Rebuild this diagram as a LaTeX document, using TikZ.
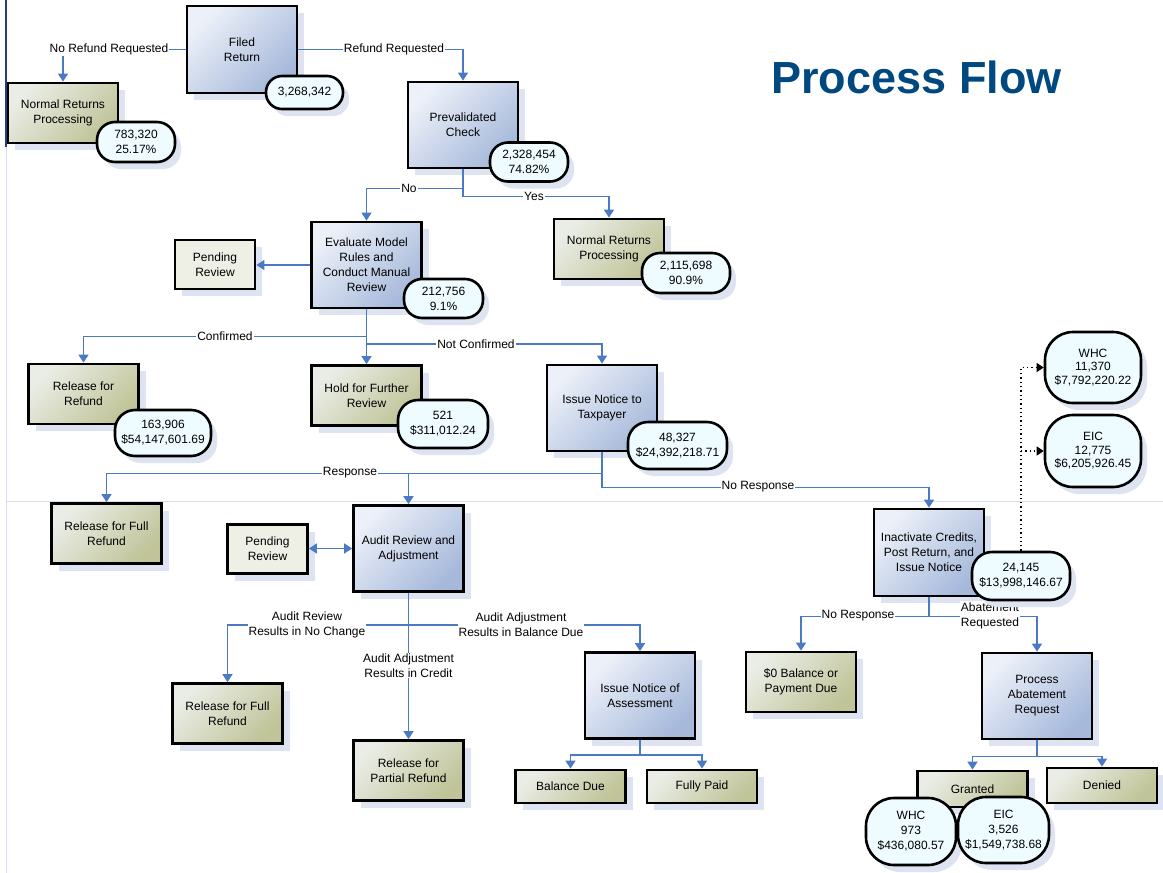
\documentclass[tikz,border=0pt]{standalone}
\usepackage{fontspec}
\setmainfont{Liberation Sans}
\usetikzlibrary{shadows,arrows.meta}
\definecolor{connc}{RGB}{74,122,196}
\definecolor{shad}{RGB}{222,227,242}
\definecolor{blueA}{RGB}{236,240,248}
\definecolor{blueB}{RGB}{166,185,219}
\definecolor{oliA}{RGB}{234,237,230}
\definecolor{oliB}{RGB}{192,196,152}
\definecolor{pendc}{RGB}{238,240,230}
\definecolor{badgec}{RGB}{238,252,255}
\definecolor{titlec}{RGB}{0,72,128}
\definecolor{framedark}{RGB}{40,60,120}
\definecolor{framelight}{RGB}{218,222,240}
\tikzset{
  txt/.style={font=\fontsize{12}{15}\selectfont},
  box/.style={txt, draw=black, line width=2.8pt, align=center, inner sep=2pt,
    drop shadow={shadow xshift=7pt, shadow yshift=-7pt, fill=shad, opacity=1}},
  bluebox/.style={box, top color=blueA, bottom color=blueB, shading angle=45},
  olivebox/.style={box, top color=oliA, bottom color=oliB, shading angle=45},
  pendbox/.style={box, fill=pendc},
  badge/.style={txt, draw=black, line width=2.6pt, fill=badgec, align=center, inner sep=0pt,
    rounded corners=18pt,
    drop shadow={shadow xshift=6pt, shadow yshift=-7pt, fill=shad, opacity=1}},
  conn/.style={draw=connc, line width=1.5pt, -{Triangle[length=8pt,width=10pt]}},
  dotconn/.style={draw=black, line width=1.3pt, dash pattern=on 1.3pt off 3pt, -{Triangle[length=7pt,width=9pt]}},
  lbl/.style={txt, fill=white, inner sep=1pt, align=center},
}
\begin{document}
\begin{tikzpicture}[x=1pt,y=-1pt]
\useasboundingbox (0,0) rectangle (1163,873);
\fill[white] (0,0) rectangle (1163,873);
% frame lines
\draw[framelight, line width=1pt] (6,147) -- (6,873);
\draw[framedark, line width=1.2pt] (6,0) -- (6,147);
\draw[framelight, line width=1pt] (6,501) -- (1163,501);
% title
\node[font=\bfseries\fontsize{45}{54}\selectfont, text=titlec, anchor=base, inner sep=0pt] (title) at (916.5,93) {Process Flow};

% boxes
\node[bluebox, minimum width=110, minimum height=87] (filed) at (242,49.5) {Filed\\Return};
\node[olivebox, minimum width=110, minimum height=60] (nrp1) at (63,113) {Normal Returns\\Processing};
\node[bluebox, minimum width=110, minimum height=86] (preval) at (463,125) {Prevalidated\\Check};
\node[olivebox, minimum width=110, minimum height=60] (nrp2) at (609,249) {Normal Returns\\Processing};
\node[bluebox, minimum width=110, minimum height=86] (eval) at (366.5,265) {Evaluate Model\\Rules and\\Conduct Manual\\Review};
\node[pendbox, minimum width=80, minimum height=49] (pend1) at (215,264.5) {Pending\\Review};
\node[olivebox, minimum width=110, minimum height=60] (relref) at (83.5,394) {Release for\\Refund};
\node[olivebox, minimum width=110, minimum height=60] (hold) at (366.5,395.5) {Hold for Further\\Review};
\node[bluebox, minimum width=110, minimum height=86] (issue) at (602,408) {Issue Notice to\\Taxpayer};
\node[olivebox, minimum width=110, minimum height=60] (rfull1) at (106.5,533.5) {Release for Full\\Refund};
\node[pendbox, minimum width=80, minimum height=49] (pend2) at (267.5,549) {Pending\\Review};
\node[bluebox, minimum width=110, minimum height=86] (audit) at (408.5,548.5) {Audit Review and\\Adjustment};
\node[olivebox, minimum width=110, minimum height=60] (rfull2) at (227.5,713.5) {Release for Full\\Refund};
\node[olivebox, minimum width=110, minimum height=60] (rpart) at (408.5,770.5) {Release for\\Partial Refund};
\node[bluebox, minimum width=110, minimum height=86] (assess) at (640,695.5) {Issue Notice of\\Assessment};
\node[olivebox, minimum width=110, minimum height=33] (baldue) at (570.5,786.5) {Balance Due};
\node[olivebox, minimum width=110, minimum height=33] (fpaid) at (702,786.5) {Fully Paid};
\node[olivebox, minimum width=110, minimum height=60] (zero) at (801,682) {\$0 Balance or\\Payment Due};
\node[bluebox, minimum width=110, minimum height=87] (inact) at (929,552.5) {Inactivate Credits,\\Post Return, and\\Issue Notice};
\node[bluebox, minimum width=110, minimum height=86] (abate) at (1037,696) {Process\\Abatement\\Request};
\node[olivebox, minimum width=110, minimum height=36] (granted) at (972.5,789) {Granted};
\node[olivebox, minimum width=110, minimum height=35] (denied) at (1102,785.5) {Denied};

% connectors
\draw[conn] (filed.west) -| (nrp1.north);
\node[lbl] (l1) at (109,49.5) {No Refund Requested};
\draw[conn] (filed.east) -| (preval.north);
\node[lbl] (l2) at (394,49.5) {Refund Requested};
\draw[conn] (preval.south) -- ++(0,19) -| (eval.north);
\node[lbl] (l3) at (409,188) {No};
\draw[conn] (preval.south) -- ++(0,27) -| (nrp2.north);
\node[lbl] (l4) at (534,196) {Yes};
\draw[conn] (eval.west) -- (eval.west -| pend1.east);
\draw[conn] (eval.south) -- ++(0,27) -| (relref.north);
\node[lbl] (l5) at (225,336) {Confirmed};
\draw[conn] (eval.south) -- (hold.north);
\coordinate (j1) at (366.5,344);
\draw[conn] (j1) -| (issue.north);
\node[lbl] (l6) at (476,344) {Not Confirmed};
\draw[conn] (issue.south) -- ++(0,21) -| (rfull1.north);
\node[lbl] (l7) at (350,473) {Response};
\coordinate (j2) at (408.5,473.4);
\draw[conn] (j2) -- (audit.north);
\draw[conn] (issue.south) -- ++(0,35) -| (inact.north);
\node[lbl] (l8) at (758,487) {No Response};
\draw[conn, {Triangle[length=8pt,width=10pt]}-{Triangle[length=8pt,width=10pt]}] (audit.west -| pend2.east) -- (audit.west);
\draw[conn] (audit.south) -- ++(0,32) -| (rfull2.north);
\node[lbl] (l9) at (307,624.5) {Audit Review\\Results in No Change};
\draw[conn] (audit.south) -- (rpart.north);
\node[lbl] (l10) at (408.5,665.5) {Audit Adjustment\\Results in Credit};
\coordinate (j3) at (408.5,624.9);
\draw[conn] (j3) -| (assess.north);
\node[lbl] (l11) at (521,624.5) {Audit Adjustment\\Results in Balance Due};
\draw[conn] (assess.south) -- ++(0,15) -| (baldue.north);
\draw[conn] (assess.south) -- ++(0,15) -| (fpaid.north);
\draw[conn] (inact.south) -- ++(0,19) -| (zero.north);
\node[lbl] (l12) at (858,616) {No Response};
\draw[conn] (inact.south) -- ++(0,19) -| (abate.north);
\node[lbl] (l13) at (990,615.5) {Abatement\\Requested};
\draw[conn] (abate.south) -- ++(0,16) -| (granted.north);
\draw[conn] (abate.south) -- ++(0,16) -| (denied.north);

% badges
\node[badge, rounded corners=16pt, minimum width=77, minimum height=33] (bfiled) at (304.5,92.5) {3,268,342};
\node[badge, minimum width=78, minimum height=40] (bnrp1) at (136,142) {783,320\\25.17\%};
\node[badge, minimum width=78, minimum height=39] (bpre) at (529,162) {2,328,454\\74.82\%};
\node[badge, minimum width=88, minimum height=40] (bnrp2) at (686,273) {2,115,698\\90.9\%};
\node[badge, minimum width=79, minimum height=39] (beval) at (443.5,298.5) {212,756\\9.1\%};
\node[badge, rounded corners=20pt, minimum width=96, minimum height=46] (brel) at (163,433) {163,906\\\$54,147,601.69};
\node[badge, rounded corners=20pt, minimum width=90, minimum height=48] (bhold) at (443,424) {521\\\$311,012.24};
\node[badge, rounded corners=20pt, minimum width=99, minimum height=47] (bissue) at (677.5,445.5) {48,327\\\$24,392,218.71};
\node[badge, rounded corners=20pt, minimum width=98, minimum height=48] (binact) at (1021,576) {24,145\\\$13,998,146.67};
\node[badge, rounded corners=28pt, font=\fontsize{12}{13.5}\selectfont, minimum width=96, minimum height=71] (bwhc1) at (1093,367.5) {WHC\\11,370\\\$7,792,220.22};
\node[badge, rounded corners=28pt, font=\fontsize{12}{13.5}\selectfont, minimum width=96, minimum height=72] (beic1) at (1093,451) {EIC\\12,775\\\$6,205,926.45};
\node[badge, rounded corners=28pt, minimum width=90, minimum height=67] (bwhc2) at (911,831.5) {WHC\\973\\\$436,080.57};
\node[badge, rounded corners=28pt, minimum width=91, minimum height=66] (beic2) at (1003.5,830) {EIC\\3,526\\\$1,549,738.68};

% dotted connectors
\draw[dotconn] (binact.north) -- (binact.north |- bwhc1.west) -- (bwhc1.west);
\draw[dotconn, -{Triangle[length=7pt,width=9pt]}] (binact.north |- beic1.west) -- (beic1.west);
\end{tikzpicture}
\end{document}
